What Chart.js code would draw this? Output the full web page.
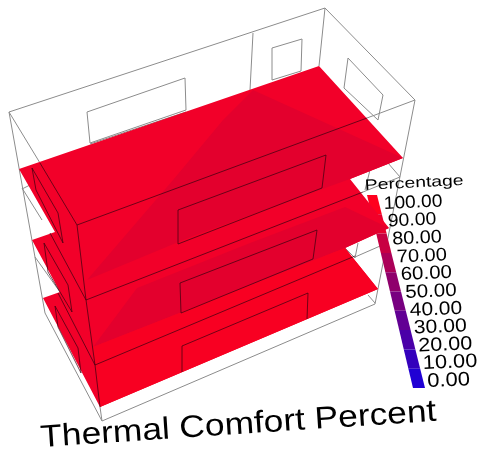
<!doctype html>
<html lang="en">

<head>
    <meta charset="utf-8">
    <title>Thermal Comfort Percent</title>
    <style>
        * {
            margin: 0;
            padding: 0;
        }

        body {
            background: white;
            overflow: hidden;
        }

        canvas {
            display: block;
            filter: blur(0.35px);
        }
    </style>
</head>

<body>
    <canvas id="myChart" width="479" height="454"></canvas>

    <script src="https://cdn.jsdelivr.net/npm/chart.js"></script>

    <script>
        const chartTitle = 'Thermal Comfort Percent'
        const legendTitle = 'Percentage'
        const legendTicks = ['100.00', '90.00', '80.00', '70.00', '60.00', '50.00', '40.00', '30.00', '20.00', '10.00', '0.00']

        // building frame
        const frameLines = [
            [[9, 112], [325, 8], [415, 100], [375, 304], [102, 421], [45, 313], [9, 112]],
            [[9, 112], [40, 163]],
            [[100, 407], [102, 421]],
            [[253, 33], [250, 90]],
            [[325, 8], [319, 66]],
            [[87, 112], [185, 78], [186, 110], [90, 143], [87, 112]],
            [[90, 144], [186, 112]],
            [[272, 48], [302, 39], [301, 71], [272, 80], [272, 48]],
            [[348, 58], [383, 95], [378, 120], [344, 88], [348, 58]],
            [[367, 118], [415, 100]],
            [[363, 192], [400, 177], [388, 163]],
            [[365, 190], [370, 170]],
            [[355, 257], [387, 243]],
            [[345, 248], [355, 258], [358, 243]],
            [[368, 295], [375, 303]],
            [[22, 189], [34, 183]],
            [[22, 188], [42, 220]],
            [[35, 257], [60, 292]]
        ]

        // floors, all three joined as one outline
        const floorOutline = [
            [19, 169], [319, 66], [403, 158], [350, 179], [389, 228], [345, 248], [378, 289],
            [100, 407], [43, 298], [60, 292], [32, 240], [55, 232]
        ]
        const darkUpper = [[87, 280], [173, 180], [223, 120], [253, 90], [403, 158], [350, 179], [193, 236]]
        const darkLower = [[93, 347], [137, 288], [250, 243], [345, 207], [389, 228], [345, 248]]
        const brightBand = [[93, 347], [345, 248], [378, 289], [100, 407]]

        const floorLines = [
            [[77, 225], [367, 118]],
            [[86, 300], [363, 192]],
            [[95, 365], [355, 256]],
            [[77, 225], [86, 300], [95, 365], [100, 407]],
            [[40, 163], [77, 225]],
            [[50, 233], [86, 300]],
            [[58, 293], [95, 365]],
            [[178, 244], [178, 210], [326, 155], [322, 188], [178, 244]],
            [[181, 313], [180, 283], [317, 230], [313, 259], [181, 313]],
            [[182, 372], [182, 346], [308, 293], [307, 319]],
            [[32, 168], [58, 213], [63, 243], [36, 190], [32, 168]],
            [[44, 243], [68, 285], [72, 312], [48, 272], [44, 243]],
            [[55, 306], [78, 348], [81, 373], [58, 327], [55, 306]]
        ]

        // colour key, top to bottom
        const keyLeftX = [367, 371.6, 376.2, 380.8, 385.4, 390, 394.6, 399.2, 403.8, 408.4, 413]
        const keyRightX = [377, 381.8, 386.6, 391.4, 396.2, 401, 405.8, 410.6, 415.4, 420.2, 425]
        const keyY = [195, 214.3, 233.6, 252.9, 272.2, 291.5, 310.8, 330.1, 349.4, 368.7, 388]
        const keyColors = ['#ff001e', '#e6002f', '#c80042', '#ab0058', '#8f006c', '#780080', '#620094', '#4a00a8', '#3400bc', '#2000d4']

        const tickX = [384, 388, 392.5, 397, 401, 405.5, 410, 414, 418.5, 423, 427.5]
        const tickY = [209, 226.5, 244.5, 262.5, 280, 298, 316, 333.5, 351.5, 369, 387]
        const tickSize = [17.8, 18, 18.2, 18.4, 18.6, 18.7, 18.9, 19.1, 19.3, 19.5, 19.7]
        const tickStretch = [1.08, 1.08, 1.09, 1.09, 1.1, 1.1, 1.11, 1.11, 1.12, 1.12, 1.12]

        const toPoints = (pairs) => pairs.map(([x, y]) => ({ x: x, y: y }))

        const lineSet = (pairs, color, width) => ({
            data: toPoints(pairs),
            showLine: true,
            borderColor: color,
            borderWidth: width,
            pointRadius: 0,
            fill: false
        })

        const fillSet = (pairs, color) => ({
            data: toPoints(pairs),
            showLine: true,
            borderColor: color,
            borderWidth: 0,
            backgroundColor: color,
            pointRadius: 0,
            fill: 'shape'
        })

        // listed back to front, order is set below
        const datasets = []
        frameLines.forEach(l => datasets.push(lineSet(l, '#8c8c8c', 1)))
        keyColors.forEach((c, i) => {
            datasets.push(fillSet([
                [keyLeftX[i], keyY[i]], [keyRightX[i], keyY[i]],
                [keyRightX[i + 1], keyY[i + 1]], [keyLeftX[i + 1], keyY[i + 1]]
            ], c))
        })
        datasets.push(fillSet(floorOutline, '#f20029'))
        datasets.push(fillSet(darkUpper, '#e3002d'))
        datasets.push(fillSet(darkLower, '#e3002d'))
        datasets.push(fillSet(brightBand, '#f80022'))
        floorLines.forEach(l => datasets.push(lineSet(l, 'rgba(60, 0, 15, 0.9)', 0.8)))
        datasets.forEach((d, i) => { d.order = datasets.length - i })

        // the text sits tilted like the rest of the view, so it is drawn here
        const tiltedText = {
            id: 'tiltedText',
            afterDraw(chart) {
                const { ctx, scales } = chart
                const put = (text, x, y, font, angle, stretch) => {
                    ctx.save()
                    ctx.translate(scales.x.getPixelForValue(x), scales.y.getPixelForValue(y))
                    ctx.rotate(angle * Math.PI / 180)
                    ctx.scale(stretch, 1)
                    ctx.font = font
                    ctx.fillStyle = '#000'
                    ctx.textBaseline = 'alphabetic'
                    ctx.fillText(text, 0, 0)
                    ctx.restore()
                }
                put(legendTitle, 365, 190, '15px "Liberation Sans"', -3, 1.29)
                legendTicks.forEach((t, i) => put(t, tickX[i], tickY[i], tickSize[i] + 'px "Liberation Sans"', -2.5, tickStretch[i]))
                put(chartTitle, 41, 447, '31px "Liberation Sans"', -3.8, 1.14)
            }
        }

        const myChart = new Chart(document.getElementById('myChart'), {
            type: 'scatter',
            data: { datasets: datasets },
            options: {
                responsive: false,
                animation: false,
                layout: { padding: 0 },
                plugins: {
                    legend: { display: false },
                    tooltip: { enabled: false }
                },
                scales: {
                    x: { type: 'linear', min: 0, max: 479, display: false },
                    y: { type: 'linear', min: 0, max: 454, reverse: true, display: false }
                }
            },
            plugins: [tiltedText]
        })
    </script>
</body>

</html>
